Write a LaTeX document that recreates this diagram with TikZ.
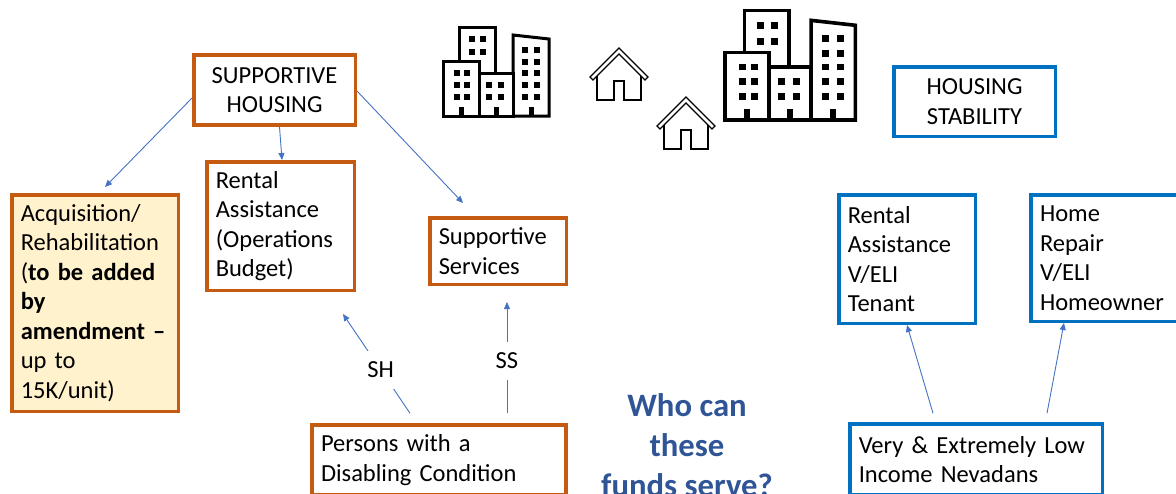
\documentclass[tikz,border=0pt]{standalone}
\usepackage{fontspec}
\setmainfont{Carlito}
\usepackage{tikz}
\usetikzlibrary{arrows.meta,calc}
\usepackage{xcolor}

\definecolor{shorange}{HTML}{C55A11}
\definecolor{acqfill}{HTML}{FFF2CC}
\definecolor{hsblue}{HTML}{0070C0}
\definecolor{arrowblue}{HTML}{4472C4}
\definecolor{whoblue}{HTML}{2F5597}

\begin{document}
\begin{tikzpicture}[x=1pt, y=-1pt,
        >={Triangle[length=7pt,width=6pt]},
        box/.style={draw, rectangle, line width=3.5pt, inner xsep=9pt, inner ysep=0pt,
            font=\fontsize{24.5}{29.5}\selectfont},
        shbox/.style={box, draw=shorange, fill=white},
        hsbox/.style={box, draw=hsblue, fill=white},
        flow/.style={->, draw=arrowblue, line width=0.9pt},
        flowlabel/.style={fill=white, inner sep=11pt, font=\fontsize{24.5}{29.5}\selectfont},
        pics/towers/.style={code={
            \draw[fill=white] (16,0) rectangle (52,-89);
            \draw[fill=white] (70,0) -- (70,-81) -- (106,-77) -- (106,0) -- cycle;
            \draw[fill=white] (0,0) rectangle (36,-55);
            \draw[fill=white] (36,0) rectangle (70,-43);
            \foreach \wx in {29,40} \foreach \wy in {64,77}
                \fill (\wx-2.75,-\wy-2.75) rectangle +(5.5,5.5);
            \foreach \wx in {14,24} \foreach \wy in {19,31,43}
                \fill (\wx-2.75,-\wy-2.75) rectangle +(5.5,5.5);
            \foreach \wx in {46,58} \foreach \wy in {19,31}
                \fill (\wx-2.75,-\wy-2.75) rectangle +(5.5,5.5);
            \foreach \wx in {82,94} \foreach \wy in {19,31,43,54,66}
                \fill (\wx-2.75,-\wy-2.75) rectangle +(5.5,5.5);
            \foreach \dx in {18,53,88}
                \fill (\dx-2.5,0) rectangle (\dx+2.5,-9);
        }},
        pics/cottage/.style={code={
            \draw[fill=white] (-29,29) -- (0,0) -- (29,29) -- (26,32) -- (0,6) -- (-26,32) -- cycle;
            \draw (-22,28) -- (-22,52) -- (-5,52) -- (-5,33) -- (5,33) -- (5,52) -- (22,52) -- (22,28);
        }}
    ]
        \useasboundingbox (0,0) rectangle (1176,493);
        \clip (0,0) rectangle (1176,493);

        % pictures at the top
        \pic[line width=3pt] at (443,116) {towers};
        \pic[scale=1.23, line width=3.6pt] at (725,120) {towers};
        \pic[line width=1.3pt] at (619,48) {cottage};
        \pic[line width=1.3pt] at (686,97) {cottage};

        % supportive housing side
        \node[shbox, align=center, minimum width=161.5pt, minimum height=70pt, text width=143.5pt]
            (sh) at (274.5,90) {SUPPORTIVE\\HOUSING};
        \node[shbox, fill=acqfill, align=left, minimum width=166.5pt, minimum height=216.5pt, text width=148.5pt]
            (acq) at (95,303) {Acquisition/\\Rehabilitation\\(\textbf{to be added}\\\textbf{by}\\\textbf{amendment –}\\up to\\15K/unit)};
        \node[shbox, align=left, minimum width=147.5pt, minimum height=128.5pt, text width=129.5pt]
            (rent) at (280.5,226) {Rental\\Assistance\\(Operations\\Budget)};
        \node[shbox, align=left, minimum width=136.5pt, minimum height=66.5pt, text width=118.5pt]
            (serv) at (498,251) {Supportive\\Services};
        \node[shbox, align=left, minimum width=254pt, minimum height=70pt, text width=236pt]
            (pers) at (439,460) {Persons with a\\Disabling Condition};

        % housing stability side
        \node[hsbox, align=center, minimum width=161.5pt, minimum height=69.5pt, text width=143.5pt]
            (hs) at (974.5,101.5) {HOUSING\\STABILITY};
        \node[hsbox, align=left, minimum width=136.5pt, minimum height=128.5pt, text width=118.5pt]
            (rav) at (907,259) {Rental\\Assistance\\V/ELI\\Tenant};
        \node[hsbox, align=left, minimum width=152pt, minimum height=126.5pt, text width=134pt]
            (hr) at (1107,258) {Home\\Repair\\V/ELI\\Homeowner};
        \node[hsbox, align=left, minimum width=252.5pt, minimum height=71pt, text width=234.5pt]
            (vel) at (976,459.5) {Very \& Extremely Low\\Income Nevadans};

        \node[align=center, text=whoblue, font=\fontsize{32.7}{40}\selectfont\bfseries]
            (who) at (687,445) {Who can\\these\\funds serve?};

        % arrows
        \draw[flow] ([yshift=-8pt]sh.west) -- ([xshift=10pt,yshift=6pt]acq.north);
        \draw[flow] ([xshift=5pt]sh.south) -- ([xshift=1.5pt]rent.north);
        \draw[flow] ([yshift=-1pt]sh.east) -- ([xshift=-35pt,yshift=13pt]serv.north);
        \draw[flow] ([xshift=-29pt,yshift=10pt]pers.north) -- node[flowlabel, pos=0.44] (shlabel) {SH}
            ([xshift=62.5pt,yshift=-22pt]rent.south);
        \draw[flow] ([xshift=68pt,yshift=10pt]pers.north) -- node[flowlabel, pos=0.47] (sslabel) {SS}
            ([xshift=9pt,yshift=-16pt]serv.south);
        \draw[flow] ([xshift=-43pt,yshift=9pt]vel.north) -- (rav.south);
        \draw[flow] ([xshift=71pt,yshift=9pt]vel.north) -- ([xshift=-43pt]hr.south);
\end{tikzpicture}
\end{document}
